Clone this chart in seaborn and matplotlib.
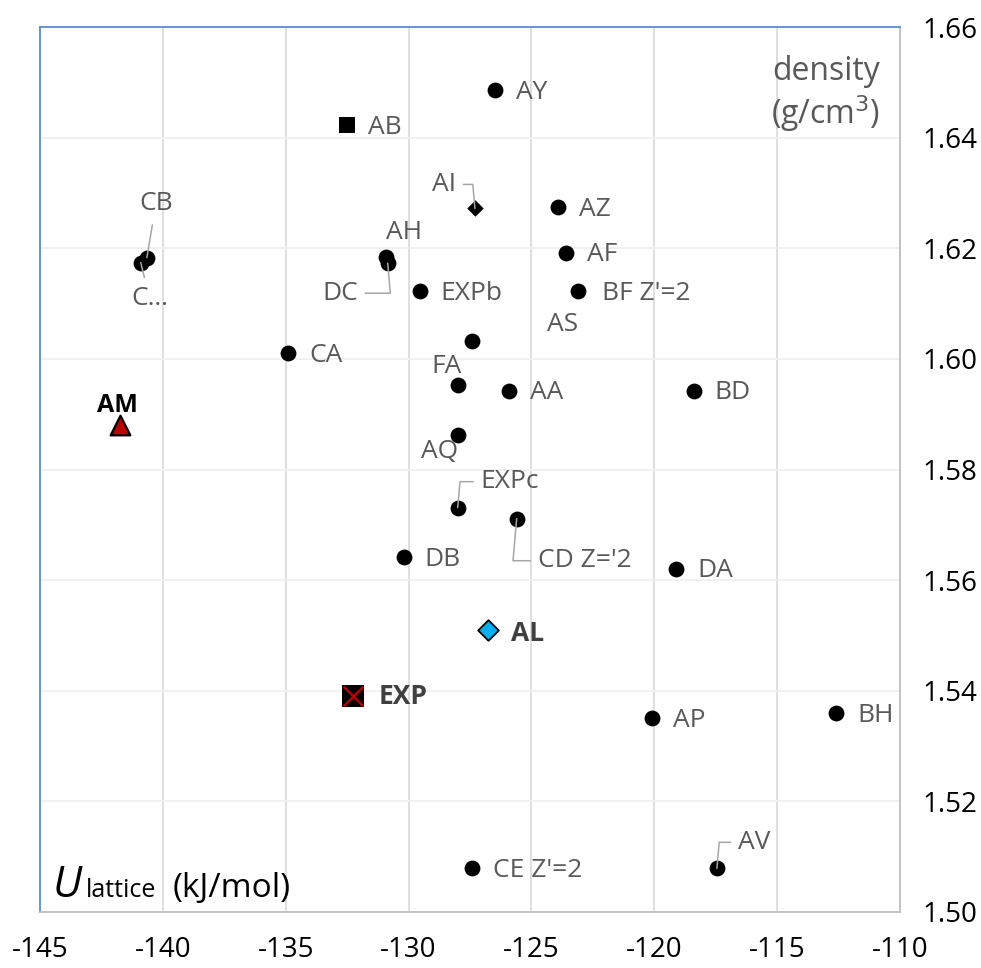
import matplotlib
matplotlib.use("Agg")
import matplotlib.pyplot as plt
import seaborn as sns
import pandas as pd

# ---- data ----
names = ["AY", "AZ", "CB", "C…", "AH", "DC", "AF", "EXPb", "BF Z'=2", "AS", "CA",
         "FA", "AA", "BD", "AQ", "EXPc", "CD Z='2", "DB", "DA", "AP", "BH", "AV", "CE Z'=2"]
u_lattice = [-126.5, -123.9, -140.65, -140.9, -130.9, -130.85, -123.6, -129.55, -123.1, -127.4, -134.9,
             -128.0, -125.9, -118.4, -128.0, -128.0, -125.6, -130.2, -119.1, -120.1, -112.6, -117.45, -127.4]
density = [1.6486, 1.6274, 1.6183, 1.6174, 1.6185, 1.6173, 1.6192, 1.6122, 1.6122, 1.6032, 1.6010,
           1.5953, 1.5942, 1.5942, 1.5862, 1.5731, 1.5711, 1.5641, 1.5621, 1.5350, 1.5359, 1.5079, 1.5079]

special_names = ["AB", "AI", "AM", "AL", "EXP"]
special_u = [-132.5, -127.3, -141.75, -126.75, -132.25]
special_d = [1.6422, 1.6272, 1.5880, 1.5510, 1.5390]

x_ticks = [-145, -140, -135, -130, -125, -120, -115, -110]
y_ticks = [1.50, 1.52, 1.54, 1.56, 1.58, 1.60, 1.62, 1.64, 1.66]

# label placement (pixel offsets, horizontal alignment, leader style)
label_pos = {
    "AY": (21, -2, "left", None), "AZ": (21, -2, "left", None),
    "CB": (9, 54, "center", "straight"), "C…": (9, -36, "center", "straight"),
    "AH": (0, 24, "left", None), "DC": (-30, -30, "right", "hookR"),
    "AF": (21, -2, "left", None), "EXPb": (21, -2, "left", None),
    "BF Z'=2": (24, -2, "left", None), "AS": (75, 17, "left", None),
    "CA": (21, -2, "left", None), "FA": (-11, 18, "center", None),
    "AA": (21, -2, "left", None), "BD": (21, -2, "left", None),
    "AQ": (-18, -16, "center", None), "EXPc": (23, 26, "left", "hookL"),
    "CD Z='2": (21, -42, "left", "hookL"), "DB": (21, -2, "left", None),
    "DA": (21, -2, "left", None), "AP": (21, -2, "left", None),
    "BH": (21, -2, "left", None), "AV": (21, 26, "left", "hookL"),
    "CE Z'=2": (21, -2, "left", None),
    "AB": (21, -2, "left", None), "AI": (-19, 24, "right", "hookR"),
    "AM": (-2, 20, "center", None), "AL": (23, -4, "left", None),
    "EXP": (25, 0, "left", None),
}

sns.set_theme(style="white")
plt.rcParams["font.family"] = ["Open Sans", "DejaVu Sans"]

fig = plt.figure(figsize=(9.81, 9.68), dpi=100)
ax = fig.add_axes([40 / 981, 1 - 912 / 968, 860 / 981, 885 / 968])

df = pd.DataFrame({"u": u_lattice, "d": density, "name": names})
sp = pd.DataFrame({"u": special_u, "d": special_d, "name": special_names})

sns.scatterplot(data=df, x="u", y="d", ax=ax, color="black", s=130, marker="o",
                edgecolor="black", linewidth=0, zorder=3)
sns.scatterplot(data=sp[sp.name == "AB"], x="u", y="d", ax=ax, color="black", s=140,
                marker="s", linewidth=0, zorder=3)
sns.scatterplot(data=sp[sp.name == "AI"], x="u", y="d", ax=ax, color="black", s=70,
                marker="D", linewidth=0, zorder=3)
sns.scatterplot(data=sp[sp.name == "AM"], x="u", y="d", ax=ax, color="#C00000", s=200,
                marker="^", edgecolor="black", linewidth=1.6, zorder=3)
sns.scatterplot(data=sp[sp.name == "AL"], x="u", y="d", ax=ax, color="#00B0F0", s=110,
                marker="D", edgecolor="black", linewidth=1.3, zorder=3)
sns.scatterplot(data=sp[sp.name == "EXP"], x="u", y="d", ax=ax, color="black", s=230,
                marker="s", linewidth=0, zorder=3)
sns.scatterplot(data=sp[sp.name == "EXP"], x="u", y="d", ax=ax, color="#C00000", s=200,
                marker="x", linewidth=1.6, zorder=4)

ax.set_xlim(-145, -110)
ax.set_ylim(1.50, 1.66)
ax.set_xticks(x_ticks)
ax.set_yticks(y_ticks)
ax.set_xticklabels([str(v) for v in x_ticks])
ax.set_yticklabels([f"{v:.2f}" for v in y_ticks])
ax.yaxis.tick_right()
ax.tick_params(axis="both", length=0, labelsize=20, colors="black")
ax.tick_params(axis="x", pad=17)
ax.tick_params(axis="y", pad=16)
ax.set_xlabel("")
ax.set_ylabel("")

ax.xaxis.grid(True, color="#d9d9d9", linewidth=1.2)
ax.yaxis.grid(True, color="#efefef", linewidth=1.2)
ax.set_axisbelow(True)

ax.spines["left"].set_color("#5b8fd0")
ax.spines["top"].set_color("#5b8fd0")
ax.spines["right"].set_color("#bfbfbf")
ax.spines["bottom"].set_color("#bfbfbf")
for s in ax.spines.values():
    s.set_linewidth(1.3)

all_x = list(u_lattice) + list(special_u)
all_y = list(density) + list(special_d)
all_n = list(names) + list(special_names)
leader_color = "#a6a6a6"
for x, y, n in zip(all_x, all_y, all_n):
    dx, dy, ha, leader = label_pos[n]
    color, weight = "#595959", "normal"
    if n == "AM":
        color, weight = "black", "bold"
    elif n in ("AL", "EXP"):
        color, weight = "#404040", "bold"
    arrow = None
    if leader == "straight":
        arrow = dict(arrowstyle="-", color=leader_color, lw=1.1, shrinkA=4, shrinkB=0)
    elif leader == "hookL":
        arrow = dict(arrowstyle="-", color=leader_color, lw=1.1, shrinkA=3, shrinkB=0,
                     relpos=(0, 0.5), connectionstyle="angle,angleA=0,angleB=85,rad=0")
    elif leader == "hookR":
        arrow = dict(arrowstyle="-", color=leader_color, lw=1.1, shrinkA=3, shrinkB=0,
                     relpos=(1, 0.5), connectionstyle="angle,angleA=0,angleB=95,rad=0")
    ax.annotate(n, xy=(x, y), xytext=(dx, dy), textcoords="offset pixels",
                ha=ha, va="center", fontsize=19 if n != "AM" else 18, color=color,
                fontweight=weight, arrowprops=arrow, zorder=5)

# axis titles inside the plot
fig.text(880 / 981, 1 - 72 / 968, "density", ha="right",
         va="center", fontsize=23, color="#595959")
fig.text(880 / 981, 1 - 114 / 968, "(g/cm$^3$)", ha="right",
         va="center", fontsize=23, color="#595959")
fig.text(53 / 981, 1 - 897 / 968, "U", fontsize=31, fontstyle="italic", color="black",
         ha="left", va="baseline")
fig.text(86 / 981, 1 - 897 / 968, "lattice", fontsize=18, color="black",
         ha="left", va="baseline")
fig.text(173 / 981, 1 - 897 / 968, "(kJ/mol)", fontsize=24, color="black",
         ha="left", va="baseline")

fig.savefig("out.png", dpi=100)
